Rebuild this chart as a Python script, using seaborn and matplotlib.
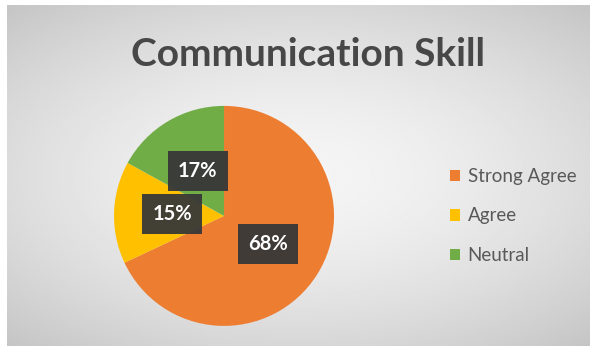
import numpy as np
import matplotlib
matplotlib.use("Agg")
import matplotlib.pyplot as plt
from matplotlib.patches import Patch
import seaborn as sns

# 数据
title = "Communication Skill"
categories = ["Strong Agree", "Agree", "Neutral"]
shares = [68, 15, 17]
slice_colors = ["#ED7D31", "#FFC000", "#70AD47"]

sns.set_theme(style="white")
plt.rcParams['font.family'] = ['Lato', 'DejaVu Sans']
palette = sns.color_palette(slice_colors)

fig = plt.figure(figsize=(5.97, 3.46), dpi=100, facecolor='white')

# 灰色渐变背景 (径向)
ax_bg = fig.add_axes([7 / 597, 0, 583 / 597, 341 / 346])
yy, xx = np.mgrid[-1:1:200j, -1:1:340j]
r = np.sqrt((xx * 0.9) ** 2 + (yy * 1.0) ** 2)
grad = 0.96 - 0.2 * np.clip(r, 0, 1.4) ** 1.6 / 1.4 ** 1.6
ax_bg.imshow(grad, cmap='gray', vmin=0, vmax=1, aspect='auto', interpolation='bilinear')
ax_bg.set_axis_off()

# 饼图
ax = fig.add_axes([0.191, 0.058, 0.3685, 0.636])
wedges, texts, autotexts = ax.pie(
    shares, colors=palette, startangle=90, counterclock=False,
    autopct='%d%%', pctdistance=0.47,
    wedgeprops=dict(linewidth=0),
    textprops=dict(color='white', fontsize=14.5, fontweight='bold'))
for t in autotexts:
    t.set_bbox(dict(boxstyle='square,pad=0.5', facecolor='#383838', edgecolor='none', alpha=0.95))
ax.set_xlim(-1, 1)
ax.set_ylim(-1, 1)
ax.set_aspect('equal')
ax.set_axis_off()

# 标题
fig.text(308 / 597, 1 - 55 / 346, title, ha='center', va='center',
         fontsize=28, fontweight='bold', color='#474747')

# 图例
handles = [Patch(facecolor=c, edgecolor='none') for c in palette]
fig.legend(handles, categories, loc='center left', bbox_to_anchor=(433 / 597, 1 - 216 / 346),
           frameon=False, fontsize=13.5, labelcolor='#595959', handlelength=0.55, handleheight=0.55,
           handletextpad=0.4, labelspacing=1.2)

fig.savefig('out.png', dpi=100, facecolor='white')
